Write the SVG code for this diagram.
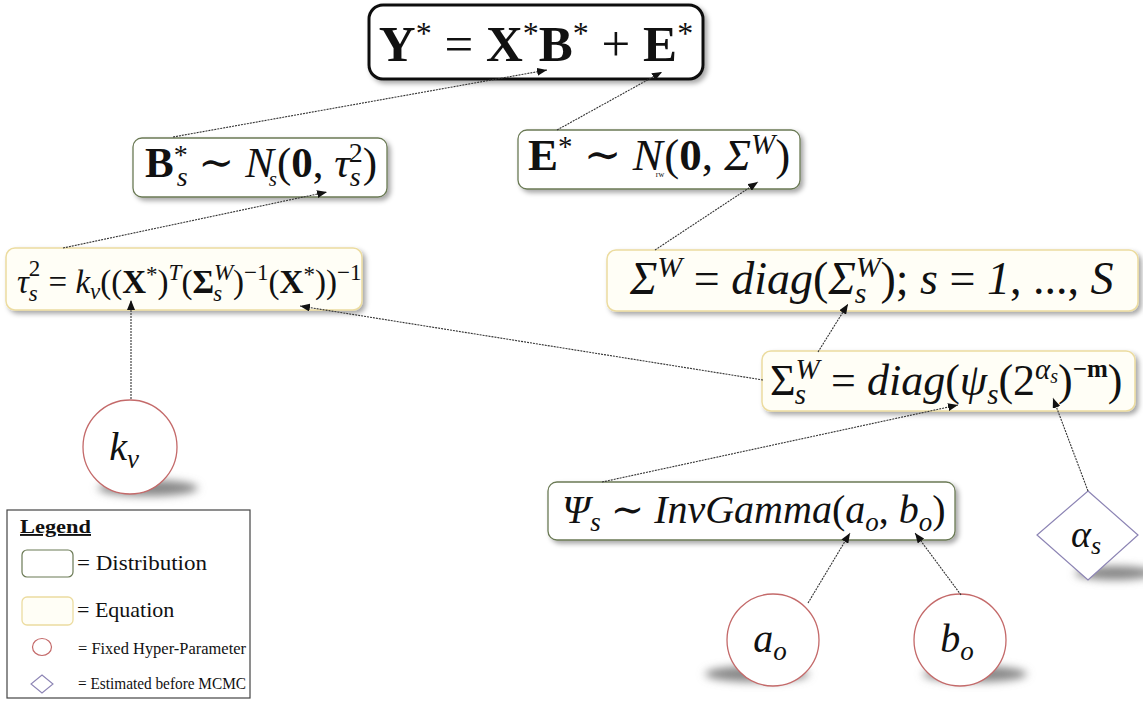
<svg xmlns="http://www.w3.org/2000/svg" width="1143" height="709" viewBox="0 0 1143 709">
<style>
.m{font-family:"Liberation Serif","DejaVu Serif",serif;fill:#111}
.i{font-style:italic}
.b{font-weight:bold}
.n{font-style:normal;font-weight:normal}
.dist{fill:#fff;stroke:#6b7a55;stroke-width:1.3}
.eq{fill:#fffef6;stroke:#ecdca0;stroke-width:1.5}
.hyp{fill:#fff;stroke:#c46a6a;stroke-width:1.3}
.est{fill:#fff;stroke:#8c84b4;stroke-width:1.2}
.c{fill:none;stroke:#333;stroke-width:1.1;stroke-dasharray:2 1}
.lg{font-family:"Liberation Serif",serif;fill:#111}
</style>
<defs>
<filter id="sh" x="-10%" y="-20%" width="130%" height="150%">
<feDropShadow dx="3" dy="3" stdDeviation="2.5" flood-color="#000" flood-opacity="0.35"/>
</filter>
<filter id="bl" x="-50%" y="-200%" width="200%" height="500%">
<feGaussianBlur stdDeviation="4"/>
</filter>
<marker id="ar" viewBox="0 0 10 8" refX="10" refY="4" markerWidth="10" markerHeight="8" markerUnits="userSpaceOnUse" orient="auto">
<path d="M0,0 L10,4 L0,8 z" fill="#111"/>
</marker>
</defs>

<g id="model">
<rect x="369" y="5" width="334" height="74" rx="14" fill="#fff" stroke="#111" stroke-width="3" filter="url(#sh)"/>
<text class="m b" x="536" y="61" text-anchor="middle" font-size="51">Y<tspan class="n" dy="-17" font-size="32">*</tspan><tspan class="n" dy="17"> = </tspan>X<tspan class="n" dy="-17" font-size="32">*</tspan><tspan dy="17">B</tspan><tspan class="n" dy="-17" font-size="32">*</tspan><tspan class="n" dy="17"> + </tspan>E<tspan class="n" dy="-17" font-size="32">*</tspan></text>
</g>

<g id="B">
<rect class="dist" x="133" y="138" width="254" height="59" rx="9" filter="url(#sh)"/>
<text class="m" x="145" y="177" font-size="43"><tspan class="b">B</tspan><tspan dy="-13" font-size="28">*</tspan><tspan class="i" dx="-11" dy="22" font-size="28">s</tspan><tspan dy="-9"> ∼ </tspan><tspan class="i">N</tspan><tspan class="i" dx="-5" dy="9" font-size="21">s</tspan><tspan dy="-9">(</tspan><tspan class="b">0</tspan>, <tspan class="i">τ</tspan><tspan class="i" dy="9" font-size="28">s</tspan><tspan dx="-12" dy="-24" font-size="28">2</tspan><tspan dy="15">)</tspan></text>
</g>

<g id="E">
<rect class="dist" x="518" y="130" width="282" height="59" rx="9" filter="url(#sh)"/>
<text class="m" x="528" y="170" font-size="45"><tspan class="b">E</tspan><tspan dy="-14" font-size="29">*</tspan><tspan dy="14"> ∼ </tspan><tspan class="i">N</tspan><tspan dx="-7" dy="7" font-size="8">rw</tspan><tspan dy="-7">(</tspan><tspan class="b">0</tspan>, <tspan class="i">Σ</tspan><tspan class="i" dy="-16" font-size="29">W</tspan><tspan dy="16">)</tspan></text>
</g>

<g id="tau">
<rect class="eq" x="6" y="248" width="356" height="62" rx="9" filter="url(#sh)"/>
<text class="m" x="17" y="293" font-size="33"><tspan class="i">τ</tspan><tspan class="i" dy="8" font-size="23">s</tspan><tspan dx="-9" dy="-25" font-size="23">2</tspan><tspan dy="17"> = </tspan><tspan class="i">k</tspan><tspan class="i" dy="6" font-size="23">ν</tspan><tspan dy="-6">((</tspan><tspan class="b">X</tspan><tspan dy="-11" font-size="23">*</tspan><tspan dy="11">)</tspan><tspan class="i" dy="-13" font-size="23">T</tspan><tspan dy="13">(</tspan><tspan class="b">Σ</tspan><tspan class="i" dy="-13" font-size="23">W</tspan><tspan class="i" dx="-20" dy="21" font-size="23">s</tspan><tspan dx="11" dy="-8">)</tspan><tspan dy="-13" font-size="23">−1</tspan><tspan dy="13">(</tspan><tspan class="b">X</tspan><tspan dy="-11" font-size="23">*</tspan><tspan dy="11">))</tspan><tspan dy="-13" font-size="23">−1</tspan></text>
</g>

<g id="SigmaW">
<rect class="eq" x="607" y="250" width="531" height="61" rx="9" filter="url(#sh)"/>
<text class="m" x="630" y="294" font-size="46"><tspan class="i">Σ</tspan><tspan class="i" dy="-17" font-size="30">W</tspan><tspan dy="17"> = </tspan><tspan class="i">diag</tspan>(<tspan class="i">Σ</tspan><tspan class="i" dy="-17" font-size="30">W</tspan><tspan class="i" dx="-26" dy="26" font-size="30">s</tspan><tspan dx="14" dy="-9">); </tspan><tspan class="i">s</tspan> = <tspan class="i">1</tspan>, ..., <tspan class="i">S</tspan></text>
</g>

<g id="SigmaS">
<rect class="eq" x="762" y="351" width="373" height="60" rx="9" filter="url(#sh)"/>
<text class="m" x="770" y="395" font-size="44">Σ<tspan class="i" dy="-16" font-size="29">W</tspan><tspan class="i" dx="-25" dy="25" font-size="29">s</tspan><tspan dx="14" dy="-9"> = </tspan><tspan class="i">diag</tspan>(<tspan class="i">ψ</tspan><tspan class="i" dy="9" font-size="29">s</tspan><tspan dy="-9">(2</tspan><tspan class="i" dy="-16" font-size="29">α</tspan><tspan class="i" dy="4" font-size="20">s</tspan><tspan dy="12">)</tspan><tspan class="b" dy="-18" font-size="25">−m</tspan><tspan dy="18">)</tspan></text>
</g>

<g id="Psi">
<rect class="dist" x="548" y="482" width="407" height="58" rx="9" filter="url(#sh)"/>
<text class="m" x="562" y="523" font-size="40"><tspan class="i">Ψ</tspan><tspan class="i" dy="8" font-size="27">s</tspan><tspan dy="-8"> ∼ </tspan><tspan class="i">InvGamma</tspan>(<tspan class="i">a</tspan><tspan class="i" dy="8" font-size="27">o</tspan><tspan dy="-8">, </tspan><tspan class="i">b</tspan><tspan class="i" dy="8" font-size="27">o</tspan><tspan dy="-8">)</tspan></text>
</g>

<g id="knu">
<ellipse cx="148" cy="488" rx="50" ry="8" fill="#888" filter="url(#bl)"/>
<circle class="hyp" cx="130" cy="447" r="47"/>
<text class="m i" x="124" y="460" text-anchor="middle" font-size="40">k<tspan dy="8" font-size="27">ν</tspan></text>
</g>

<g id="ao">
<ellipse cx="757" cy="674" rx="52" ry="8" fill="#888" filter="url(#bl)"/>
<circle class="hyp" cx="773" cy="640" r="46"/>
<text class="m i" x="770" y="652" text-anchor="middle" font-size="40">a<tspan dy="8" font-size="27">o</tspan></text>
</g>

<g id="bo">
<ellipse cx="975" cy="674" rx="52" ry="8" fill="#888" filter="url(#bl)"/>
<circle class="hyp" cx="960" cy="640" r="46"/>
<text class="m i" x="957" y="652" text-anchor="middle" font-size="40">b<tspan dy="8" font-size="27">o</tspan></text>
</g>

<g id="alpha">
<ellipse cx="1115" cy="573" rx="40" ry="7" fill="#888" filter="url(#bl)"/>
<polygon class="est" points="1088,491 1138,535 1088,580 1037,535"/>
<text class="m i" x="1086" y="547" text-anchor="middle" font-size="38">α<tspan dy="7" font-size="26">s</tspan></text>
</g>

<g id="legend">
<rect x="7" y="510" width="243" height="188" fill="#fff" stroke="#444" stroke-width="1.2"/>
<text class="lg" x="20" y="533" font-size="19" font-weight="bold" text-decoration="underline" textLength="71" lengthAdjust="spacingAndGlyphs">Legend</text>
<rect x="22" y="550" width="51" height="27" rx="5" fill="#fff" stroke="#6b7a55" stroke-width="1.2"/>
<text class="lg" x="77" y="570" font-size="22" textLength="130" lengthAdjust="spacingAndGlyphs">= Distribution</text>
<rect x="22" y="597" width="51" height="28" rx="5" fill="#fffef6" stroke="#ecdca0" stroke-width="1.3"/>
<text class="lg" x="77" y="617" font-size="22">= Equation</text>
<ellipse cx="42" cy="647" rx="9.5" ry="8.5" fill="#fff" stroke="#c46a6a" stroke-width="1.2"/>
<text class="lg" x="78" y="654" font-size="17" textLength="168" lengthAdjust="spacingAndGlyphs">= Fixed Hyper-Parameter</text>
<polygon points="42,675 53,684 42,693 31,684" fill="#fff" stroke="#8c84b4" stroke-width="1.1"/>
<text class="lg" x="78" y="689" font-size="17" textLength="168" lengthAdjust="spacingAndGlyphs">= Estimated before MCMC</text>
</g>

<g id="connectors">
<line class="c" x1="173" y1="137" x2="547" y2="70" marker-end="url(#ar)"/>
<line class="c" x1="557" y1="130" x2="662" y2="72" marker-end="url(#ar)"/>
<line class="c" x1="63" y1="248" x2="327" y2="192" marker-end="url(#ar)"/>
<line class="c" x1="655" y1="250" x2="758" y2="182" marker-end="url(#ar)"/>
<line class="c" x1="131" y1="399" x2="131" y2="300" marker-end="url(#ar)"/>
<line class="c" x1="763" y1="380" x2="300" y2="306" marker-end="url(#ar)"/>
<line class="c" x1="818" y1="352" x2="848" y2="304" marker-end="url(#ar)"/>
<line class="c" x1="602" y1="482" x2="958" y2="405" marker-end="url(#ar)"/>
<line class="c" x1="1088" y1="491" x2="1053" y2="398" marker-end="url(#ar)"/>
<line class="c" x1="808" y1="603" x2="850" y2="533" marker-end="url(#ar)"/>
<line class="c" x1="961" y1="595" x2="915" y2="533" marker-end="url(#ar)"/>
</g>
</svg>
